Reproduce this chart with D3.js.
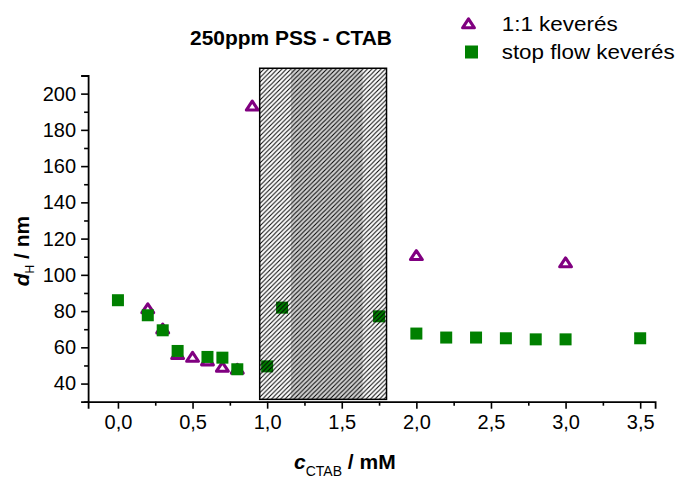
<!DOCTYPE html>
<html><head><meta charset="utf-8">
<script src="https://cdn.jsdelivr.net/npm/d3@7"></script>
<style>
html,body{margin:0;padding:0;background:#fff;}
text{font-family:"Liberation Sans",Arial,sans-serif;}
</style></head>
<body><svg id="c" width="680" height="481"></svg>
<script>
// ---- data ----
const mixX = [0.2, 0.3, 0.4, 0.5, 0.6, 0.7, 0.8, 0.9, 2.0, 3.0];
const mixY = [81.5, 70.3, 56.2, 54.7, 52.7, 49.2, 48.1, 193.3, 110.8, 106.8];
const stopX = [0, 0.2, 0.3, 0.4, 0.6, 0.7, 0.8, 1.0, 1.1, 1.75, 2.0, 2.2, 2.4, 2.6, 2.8, 3.0, 3.5];
const stopY = [86, 77.7, 69.4, 58, 54.7, 54.3, 47.9, 49.5, 81.9, 77.1, 67.6, 65.4, 65.4, 65, 64.4, 64.4, 65];
const xTicks = [0, 0.5, 1.0, 1.5, 2.0, 2.5, 3.0, 3.5];
const xMinor = [0.25, 0.75, 1.25, 1.75, 2.25, 2.75, 3.25];
const yTicks = [40, 60, 80, 100, 120, 140, 160, 180, 200];
const yMinor = [30, 50, 70, 90, 110, 130, 150, 170, 190, 210];
const hatchRegion = [0.95, 1.8, 31.3, 214];
const grayBand = [1.16, 1.64];
const seriesNames = ["1:1 keverés", "stop flow keverés"];
const title = "250ppm PSS - CTAB";

const svg = d3.select("#c");
const x = d3.scaleLinear().domain([-0.2, 3.6]).range([88.1, 655.1]);
const y = d3.scaleLinear().domain([30, 210]).range([401.7, 75.5]);
const fmt = d => d3.format(".1f")(d).replace(".", ",");

// hatch pattern
const defs = svg.append("defs");
const pat = defs.append("pattern").attr("id", "hatch").attr("patternUnits", "userSpaceOnUse")
  .attr("width", 4.5).attr("height", 4.5);
pat.append("path").attr("d", "M-1,1 l2,-2 M0,4.5 l4.5,-4.5 M3.5,5.5 l2,-2")
  .attr("stroke", "#000").attr("stroke-width", 1.0);

// axes
const xAxis = d3.axisBottom(x).tickValues(xTicks).tickFormat(fmt).tickSize(7).tickPadding(6);
const gx = svg.append("g").attr("transform", `translate(0,${y(30)})`).call(xAxis);
gx.selectAll("text").attr("font-size", 20).attr("fill", "#000").style("font-family", "Liberation Sans");
svg.append("g").attr("transform", `translate(0,${y(30)})`)
  .call(d3.axisBottom(x).tickValues(xMinor).tickFormat("").tickSize(4))
  .select(".domain").remove();

const yAxis = d3.axisLeft(y).tickValues(yTicks).tickFormat(d3.format("d")).tickSize(7).tickPadding(5);
const gy = svg.append("g").attr("transform", `translate(${x(-0.2)},0)`).call(yAxis);
gy.selectAll("text").attr("font-size", 20).attr("fill", "#000").style("font-family", "Liberation Sans");
svg.append("g").attr("transform", `translate(${x(-0.2)},0)`)
  .call(d3.axisLeft(y).tickValues(yMinor).tickFormat("").tickSize(4))
  .select(".domain").remove();

svg.selectAll(".domain").attr("stroke", "#000").attr("stroke-width", 1.8);
svg.selectAll(".tick line").attr("stroke", "#000").attr("stroke-width", 1.6);

// markers
const triPath = "M0,-4.6 L5.9,4.3 L-5.9,4.3 Z";
svg.append("g").selectAll("path").data(mixX.map((d, i) => [d, mixY[i]])).join("path")
  .attr("d", triPath).attr("transform", d => `translate(${x(d[0])},${y(d[1])})`)
  .attr("fill", "none").attr("stroke", "#800080").attr("stroke-width", 3.1).attr("stroke-linejoin", "round");
svg.append("g").selectAll("rect").data(stopX.map((d, i) => [d, stopY[i]])).join("rect")
  .attr("x", d => x(d[0]) - 6).attr("y", d => y(d[1]) - 6).attr("width", 12).attr("height", 12)
  .attr("fill", "#008000");

// hatched region
svg.append("rect").attr("x", x(grayBand[0])).attr("width", x(grayBand[1]) - x(grayBand[0]))
  .attr("y", y(hatchRegion[3])).attr("height", y(hatchRegion[2]) - y(hatchRegion[3]))
  .attr("fill", "#d2d2d2");
svg.append("rect").attr("x", x(hatchRegion[0])).attr("width", x(hatchRegion[1]) - x(hatchRegion[0]))
  .attr("y", y(hatchRegion[3])).attr("height", y(hatchRegion[2]) - y(hatchRegion[3]))
  .attr("fill", "url(#hatch)").attr("stroke", "#000").attr("stroke-width", 1.5);

// title
svg.append("text").attr("x", 190).attr("y", 45)
  .attr("font-size", 19.5).attr("font-weight", "bold")
  .attr("textLength", 202).attr("lengthAdjust", "spacingAndGlyphs").text(title);

// legend
const lg = svg.append("g");
lg.append("path").attr("d", triPath).attr("transform", "translate(468.5,23.5)")
  .attr("fill", "none").attr("stroke", "#800080").attr("stroke-width", 3.1).attr("stroke-linejoin", "round");
lg.append("rect").attr("x", 465).attr("y", 45.5).attr("width", 13).attr("height", 13).attr("fill", "#008000");
lg.append("text").attr("x", 501.7).attr("y", 30.5).attr("font-size", 20)
  .attr("textLength", 116).attr("lengthAdjust", "spacingAndGlyphs").text(seriesNames[0]);
lg.append("text").attr("x", 501.7).attr("y", 59).attr("font-size", 20)
  .attr("textLength", 173).attr("lengthAdjust", "spacingAndGlyphs").text(seriesNames[1]);

// y label
const yl = svg.append("text").attr("transform", "translate(29,251) rotate(-90)")
  .attr("text-anchor", "middle").attr("font-size", 21).attr("font-weight", "bold");
yl.append("tspan").attr("font-style", "italic").text("d");
yl.append("tspan").attr("font-size", 12).attr("font-weight", "normal").attr("dy", 5).text("H");
yl.append("tspan").attr("dy", -5).text(" / nm");

// x label
const xl = svg.append("text").attr("x", 294).attr("y", 469).attr("font-size", 21).attr("font-weight", "bold");
xl.append("tspan").attr("font-style", "italic").text("c");
xl.append("tspan").attr("font-size", 14).attr("font-weight", "normal").attr("dy", 7).text("CTAB");
xl.append("tspan").attr("dy", -7).text(" / mM");
</script></body></html>
